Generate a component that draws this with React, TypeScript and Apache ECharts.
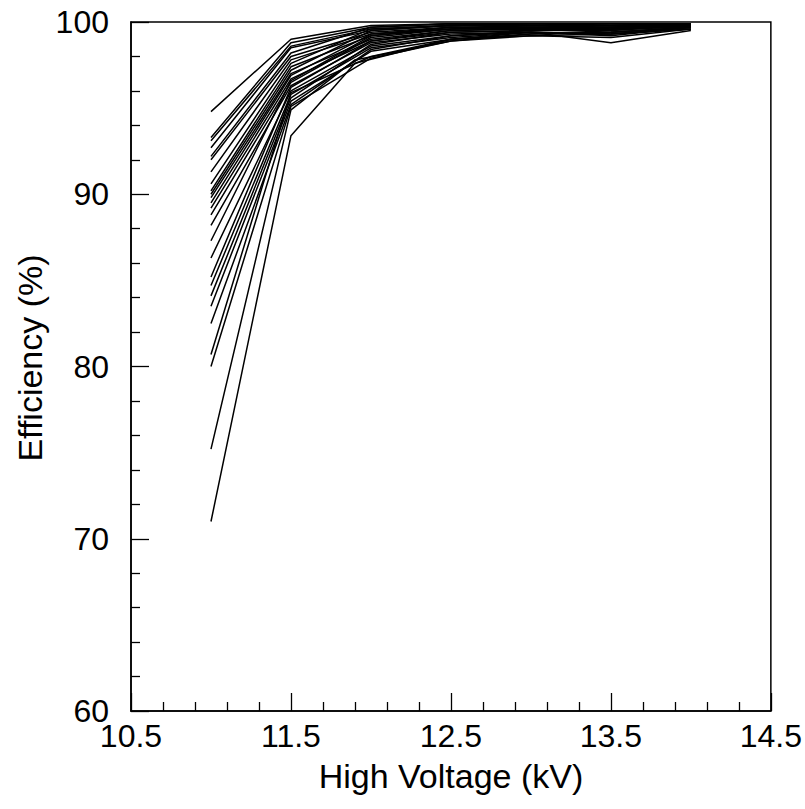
import React, { useEffect, useRef } from "react";
import * as echarts from "echarts";

const voltages = [11.0, 11.5, 12.0, 12.5, 13.0, 13.5, 14.0];
const lowVoltages = [11.0, 11.5, 11.9, 12.5, 13.0, 13.5, 14.0];

const efficiencies: number[][] = [
  [94.8, 99.0, 99.8, 99.9, 99.9, 99.9, 99.9],
  [93.3, 98.8, 99.7, 99.9, 99.8, 99.9, 99.9],
  [93.1, 98.6, 99.6, 99.8, 99.9, 99.8, 99.9],
  [92.7, 98.5, 99.5, 99.8, 99.7, 99.8, 99.8],
  [92.2, 98.2, 99.7, 99.9, 99.8, 99.7, 99.9],
  [92.0, 98.0, 99.4, 99.7, 99.7, 99.6, 99.8],
  [91.3, 97.8, 99.3, 99.6, 99.6, 99.5, 99.8],
  [90.6, 97.6, 99.6, 99.8, 99.8, 99.8, 99.9],
  [90.2, 97.4, 99.2, 99.7, 99.6, 99.7, 99.8],
  [90.0, 97.2, 99.5, 99.8, 99.9, 99.9, 99.9],
  [89.8, 97.0, 99.0, 99.5, 99.6, 99.4, 99.7],
  [89.5, 96.9, 99.3, 99.7, 99.7, 99.6, 99.8],
  [89.2, 96.7, 98.9, 99.4, 99.5, 99.6, 99.7],
  [88.8, 96.5, 99.1, 99.6, 99.7, 99.7, 99.8],
  [88.2, 96.3, 98.8, 99.3, 99.4, 99.2, 99.7],
  [87.3, 96.6, 99.2, 99.6, 99.8, 99.8, 99.9],
  [86.3, 96.0, 98.6, 99.2, 99.4, 98.8, 99.5],
  [85.2, 96.2, 98.9, 99.5, 99.6, 99.7, 99.8],
  [84.7, 95.8, 98.5, 99.1, 99.4, 99.3, 99.7],
  [84.1, 95.6, 98.7, 99.4, 99.5, 99.5, 99.8],
  [83.5, 95.4, 98.3, 99.0, 99.3, 99.4, 99.7],
  [82.5, 95.2, 98.4, 99.2, 99.5, 99.6, 99.8],
  [80.7, 95.9, 98.0, 99.0, 99.2, 99.1, 99.6],
  [80.0, 95.1, 97.9, 98.9, 99.3, 99.4, 99.7],
];

const lowEfficiencies: number[][] = [
  [75.2, 94.9, 97.8, 98.9, 99.2, 99.3, 99.6],
  [71.0, 93.4, 97.6, 99.0, 99.4, 99.3, 99.6],
];

const xTicks = { min: 10.5, max: 14.5, interval: 1 };
const yTicks = { min: 60, max: 100, interval: 10 };
const xTitle = "High Voltage (kV)";
const yTitle = "Efficiency (%)";

export default function App() {
  const ref = useRef<HTMLDivElement>(null);
  useEffect(() => {
    if (!ref.current) return;
    const chart = echarts.init(ref.current, null, { renderer: "svg" });
    const font = "Liberation Sans, Arial, Helvetica, sans-serif";
    const mk = (xs: number[], ys: number[]) => ({
      type: "line",
      data: ys.map((v, i) => [xs[i], v]),
      showSymbol: false,
      symbol: "none",
      lineStyle: { color: "#000", width: 1.5 },
      silent: true,
    });
    const series = [
      ...efficiencies.map((ys) => mk(voltages, ys)),
      ...lowEfficiencies.map((ys) => mk(lowVoltages, ys)),
    ];
    chart.setOption({
      animation: false,
      backgroundColor: "#fff",
      grid: {
        left: 131,
        top: 22,
        right: 33,
        bottom: 98,
        show: true,
        borderColor: "#000",
        borderWidth: 1.5,
        backgroundColor: "transparent",
      },
      graphic: [
        {
          type: "text",
          x: 30,
          y: 358,
          rotation: Math.PI / 2,
          style: {
            text: yTitle,
            fontSize: 34,
            fill: "#000",
            fontFamily: font,
            align: "center",
            verticalAlign: "middle",
          },
        },
      ],
      xAxis: {
        type: "value",
        min: xTicks.min,
        max: xTicks.max,
        interval: xTicks.interval,
        name: xTitle,
        nameLocation: "middle",
        nameGap: 48,
        nameTextStyle: { fontSize: 34, color: "#000", fontFamily: font },
        axisLine: { lineStyle: { color: "#000", width: 1.5 } },
        axisTick: { inside: true, length: 18, lineStyle: { color: "#000", width: 1.3 } },
        minorTick: { show: true, splitNumber: 5, length: 9, lineStyle: { color: "#000", width: 1.3 } },
        splitLine: { show: false },
        axisLabel: { fontSize: 32, color: "#000", fontFamily: font, margin: 9 },
      },
      yAxis: {
        type: "value",
        min: yTicks.min,
        max: yTicks.max,
        interval: yTicks.interval,
        axisLine: { lineStyle: { color: "#000", width: 1.5 } },
        axisTick: { inside: true, length: 18, lineStyle: { color: "#000", width: 1.3 } },
        minorTick: { show: true, splitNumber: 5, length: 9, lineStyle: { color: "#000", width: 1.3 } },
        splitLine: { show: false },
        axisLabel: { fontSize: 32, color: "#000", fontFamily: font, margin: 22 },
      },
      series,
    });
    return () => chart.dispose();
  }, []);
  return (
    <div
      ref={ref}
      style={{ position: "fixed", left: 0, top: 0, width: 805, height: 809 }}
    />
  );
}
